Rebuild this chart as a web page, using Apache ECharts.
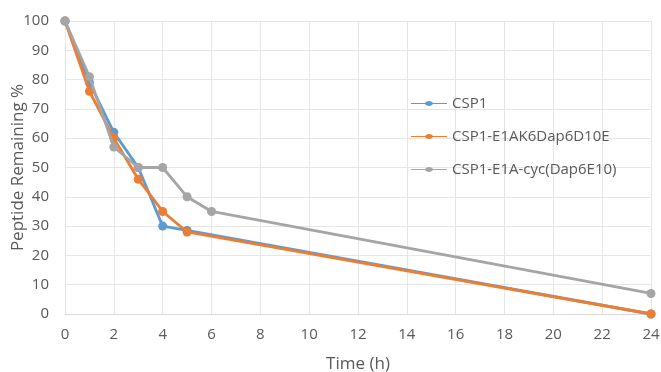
<!DOCTYPE html>
<html><head><meta charset="utf-8">
<script src="https://cdn.jsdelivr.net/npm/echarts@6/dist/echarts.min.js"></script>
<style>html,body{margin:0;padding:0;background:#fff}#c{width:661px;height:372px}</style>
</head><body><div id="c"></div>
<script>
var seriesNames = ['CSP1', 'CSP1-E1AK6Dap6D10E', 'CSP1-E1A-cyc(Dap6E10)'];
var timesCSP1 = [0, 1, 2, 3, 4, 5, 24];
var valsCSP1 = [100, 79, 62, 50, 30, 28.5, 0];
var timesE1AK6 = [0, 1, 2, 3, 4, 5, 24];
var valsE1AK6 = [100, 76, 60, 46, 35, 28, 0];
var timesCyc = [0, 1, 2, 3, 4, 5, 6, 24];
var valsCyc = [100, 81, 57, 50, 50, 40, 35, 7];
var colors = ['#5B9BD5', '#ED7D31', '#A5A5A5'];

function pairs(t, v) { return t.map(function (x, i) { return [x, v[i]]; }); }
var font = '"Open Sans", "Liberation Sans", sans-serif';
var chart = echarts.init(document.getElementById('c'));
var mk = function (name, t, v, c, z) {
  return {
    name: name, type: 'line', data: pairs(t, v), z: z,
    symbol: 'circle', symbolSize: 9,
    lineStyle: { color: c, width: 2.8 }, itemStyle: { color: c },
    emphasis: { disabled: true }
  };
};
chart.setOption({
  animation: false,
  color: colors,
  textStyle: { fontFamily: font },
  grid: { left: 65, right: 10, top: 21, bottom: 58, containLabel: false, outerBoundsMode: 'none' },
  legend: {
    orient: 'vertical', left: 406, top: 91, itemGap: 18,
    itemWidth: 36, itemHeight: 10,
    textStyle: { color: '#595959', fontSize: 15, fontFamily: font },
    data: seriesNames.map(function (n) {
      return { name: n, icon: 'path://M0,4.4 L14,4.4 A5,5 0 0 1 22,4.4 L36,4.4 L36,5.6 L22,5.6 A5,5 0 0 1 14,5.6 L0,5.6 Z' };
    })
  },
  xAxis: {
    type: 'value', min: 0, max: 24, interval: 2,
    name: 'Time (h)', nameLocation: 'middle', nameGap: 42,
    nameTextStyle: { color: '#595959', fontSize: 17 },
    axisLine: { show: true, lineStyle: { color: '#d9d9d9' } },
    axisTick: { show: false },
    axisLabel: { color: '#595959', fontSize: 15, margin: 13 },
    splitLine: { show: true, lineStyle: { color: '#e6e6e6' } }
  },
  yAxis: {
    type: 'value', min: 0, max: 100, interval: 10,
    name: 'Peptide Remaining %', nameLocation: 'middle', nameGap: 38,
    nameMoveOverlap: false,
    nameTextStyle: { color: '#595959', fontSize: 17 },
    axisLine: { show: false },
    axisTick: { show: false },
    axisLabel: { color: '#595959', fontSize: 15, margin: 16 },
    splitLine: { show: true, lineStyle: { color: '#e6e6e6' } }
  },
  series: [
    mk(seriesNames[0], timesCSP1, valsCSP1, colors[0], 2),
    mk(seriesNames[1], timesE1AK6, valsE1AK6, colors[1], 3),
    mk(seriesNames[2], timesCyc, valsCyc, colors[2], 4)
  ]
});
</script></body></html>
